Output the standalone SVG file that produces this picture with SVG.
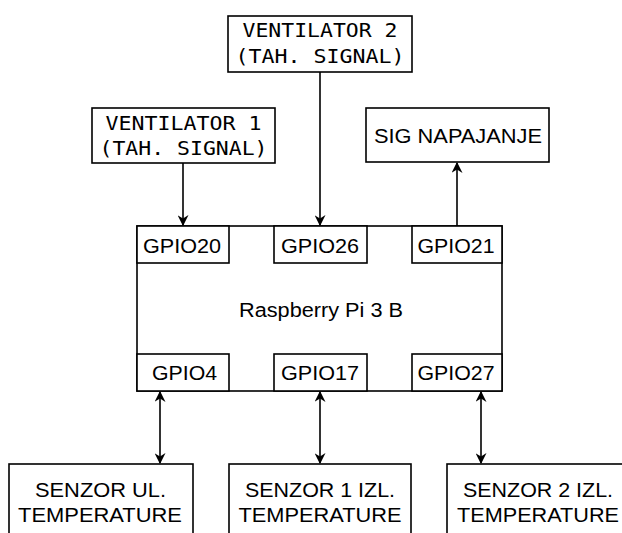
<svg xmlns="http://www.w3.org/2000/svg" width="622" height="533" viewBox="0 0 622 533">
<style>
.box{fill:#fff;stroke:#000;stroke-width:1.6}
.sans{font-family:"Liberation Sans",Arial,sans-serif;font-size:19.5px;fill:#000;text-anchor:middle}
.mono{font-family:"DejaVu Sans Mono","Liberation Mono",monospace;font-size:19px;fill:#000;text-anchor:middle}
.wire{stroke:#000;stroke-width:1.6;fill:none}
</style>
<defs>
<marker id="arr" viewBox="0 0 10 10" refX="9" refY="5" markerWidth="11" markerHeight="11" markerUnits="userSpaceOnUse" orient="auto-start-reverse">
<path d="M0,0 L10,5 L0,10 L3,5 z" fill="#000"/>
</marker>
</defs>
<g id="connectors">
<line class="wire" x1="183" y1="163" x2="183" y2="225" marker-end="url(#arr)"/>
<line class="wire" x1="320" y1="72" x2="320" y2="225" marker-end="url(#arr)"/>
<line class="wire" x1="457" y1="226" x2="457" y2="163" marker-end="url(#arr)"/>
<line class="wire" x1="160" y1="392" x2="160" y2="463" marker-start="url(#arr)" marker-end="url(#arr)"/>
<line class="wire" x1="320" y1="392" x2="320" y2="463" marker-start="url(#arr)" marker-end="url(#arr)"/>
<line class="wire" x1="481" y1="392" x2="481" y2="463" marker-start="url(#arr)" marker-end="url(#arr)"/>
</g>
<g id="ventilator2">
<rect class="box" x="228" y="16" width="184" height="56"/>
<text class="mono" x="320" y="37" textLength="155" lengthAdjust="spacingAndGlyphs">VENTILATOR 2</text>
<text class="mono" x="320" y="63" textLength="169" lengthAdjust="spacingAndGlyphs">(TAH. SIGNAL)</text>
</g>
<g id="ventilator1">
<rect class="box" x="92" y="108" width="183" height="55"/>
<text class="mono" x="183.5" y="130" textLength="156" lengthAdjust="spacingAndGlyphs">VENTILATOR 1</text>
<text class="mono" x="183.5" y="155" textLength="168" lengthAdjust="spacingAndGlyphs">(TAH. SIGNAL)</text>
</g>
<g id="sig-napajanje">
<rect class="box" x="366" y="108" width="183" height="54"/>
<text class="sans" x="458" y="143" textLength="168" lengthAdjust="spacingAndGlyphs">SIG NAPAJANJE</text>
</g>
<g id="raspberry">
<rect class="box" x="137" y="226" width="365" height="165"/>
<text class="sans" x="321" y="317" textLength="164" lengthAdjust="spacingAndGlyphs">Raspberry Pi 3 B</text>
</g>
<g id="gpio20">
<rect class="box" x="137" y="226" width="92" height="37"/>
<text class="sans" x="182" y="253" textLength="78" lengthAdjust="spacingAndGlyphs">GPIO20</text>
</g>
<g id="gpio26">
<rect class="box" x="274" y="226" width="93" height="37"/>
<text class="sans" x="320" y="253" textLength="78" lengthAdjust="spacingAndGlyphs">GPIO26</text>
</g>
<g id="gpio21">
<rect class="box" x="412" y="226" width="90" height="37"/>
<text class="sans" x="456" y="253" textLength="77" lengthAdjust="spacingAndGlyphs">GPIO21</text>
</g>
<g id="gpio4">
<rect class="box" x="137" y="354" width="92" height="37"/>
<text class="sans" x="184.5" y="380" textLength="65" lengthAdjust="spacingAndGlyphs">GPIO4</text>
</g>
<g id="gpio17">
<rect class="box" x="274" y="354" width="93" height="37"/>
<text class="sans" x="320" y="380" textLength="78" lengthAdjust="spacingAndGlyphs">GPIO17</text>
</g>
<g id="gpio27">
<rect class="box" x="412" y="354" width="90" height="37"/>
<text class="sans" x="456" y="380" textLength="77" lengthAdjust="spacingAndGlyphs">GPIO27</text>
</g>
<g id="senzor-ul">
<rect class="box" x="9" y="464" width="184" height="80"/>
<text class="sans" x="100.5" y="497" textLength="131" lengthAdjust="spacingAndGlyphs">SENZOR UL.</text>
<text class="sans" x="100" y="522" textLength="164" lengthAdjust="spacingAndGlyphs">TEMPERATURE</text>
</g>
<g id="senzor-1">
<rect class="box" x="229" y="464" width="182" height="80"/>
<text class="sans" x="320" y="497" textLength="150" lengthAdjust="spacingAndGlyphs">SENZOR 1 IZL.</text>
<text class="sans" x="320" y="522" textLength="163" lengthAdjust="spacingAndGlyphs">TEMPERATURE</text>
</g>
<g id="senzor-2">
<rect class="box" x="447" y="464" width="184" height="80"/>
<text class="sans" x="538" y="497" textLength="150" lengthAdjust="spacingAndGlyphs">SENZOR 2 IZL.</text>
<text class="sans" x="538" y="522" textLength="162" lengthAdjust="spacingAndGlyphs">TEMPERATURE</text>
</g>
</svg>
